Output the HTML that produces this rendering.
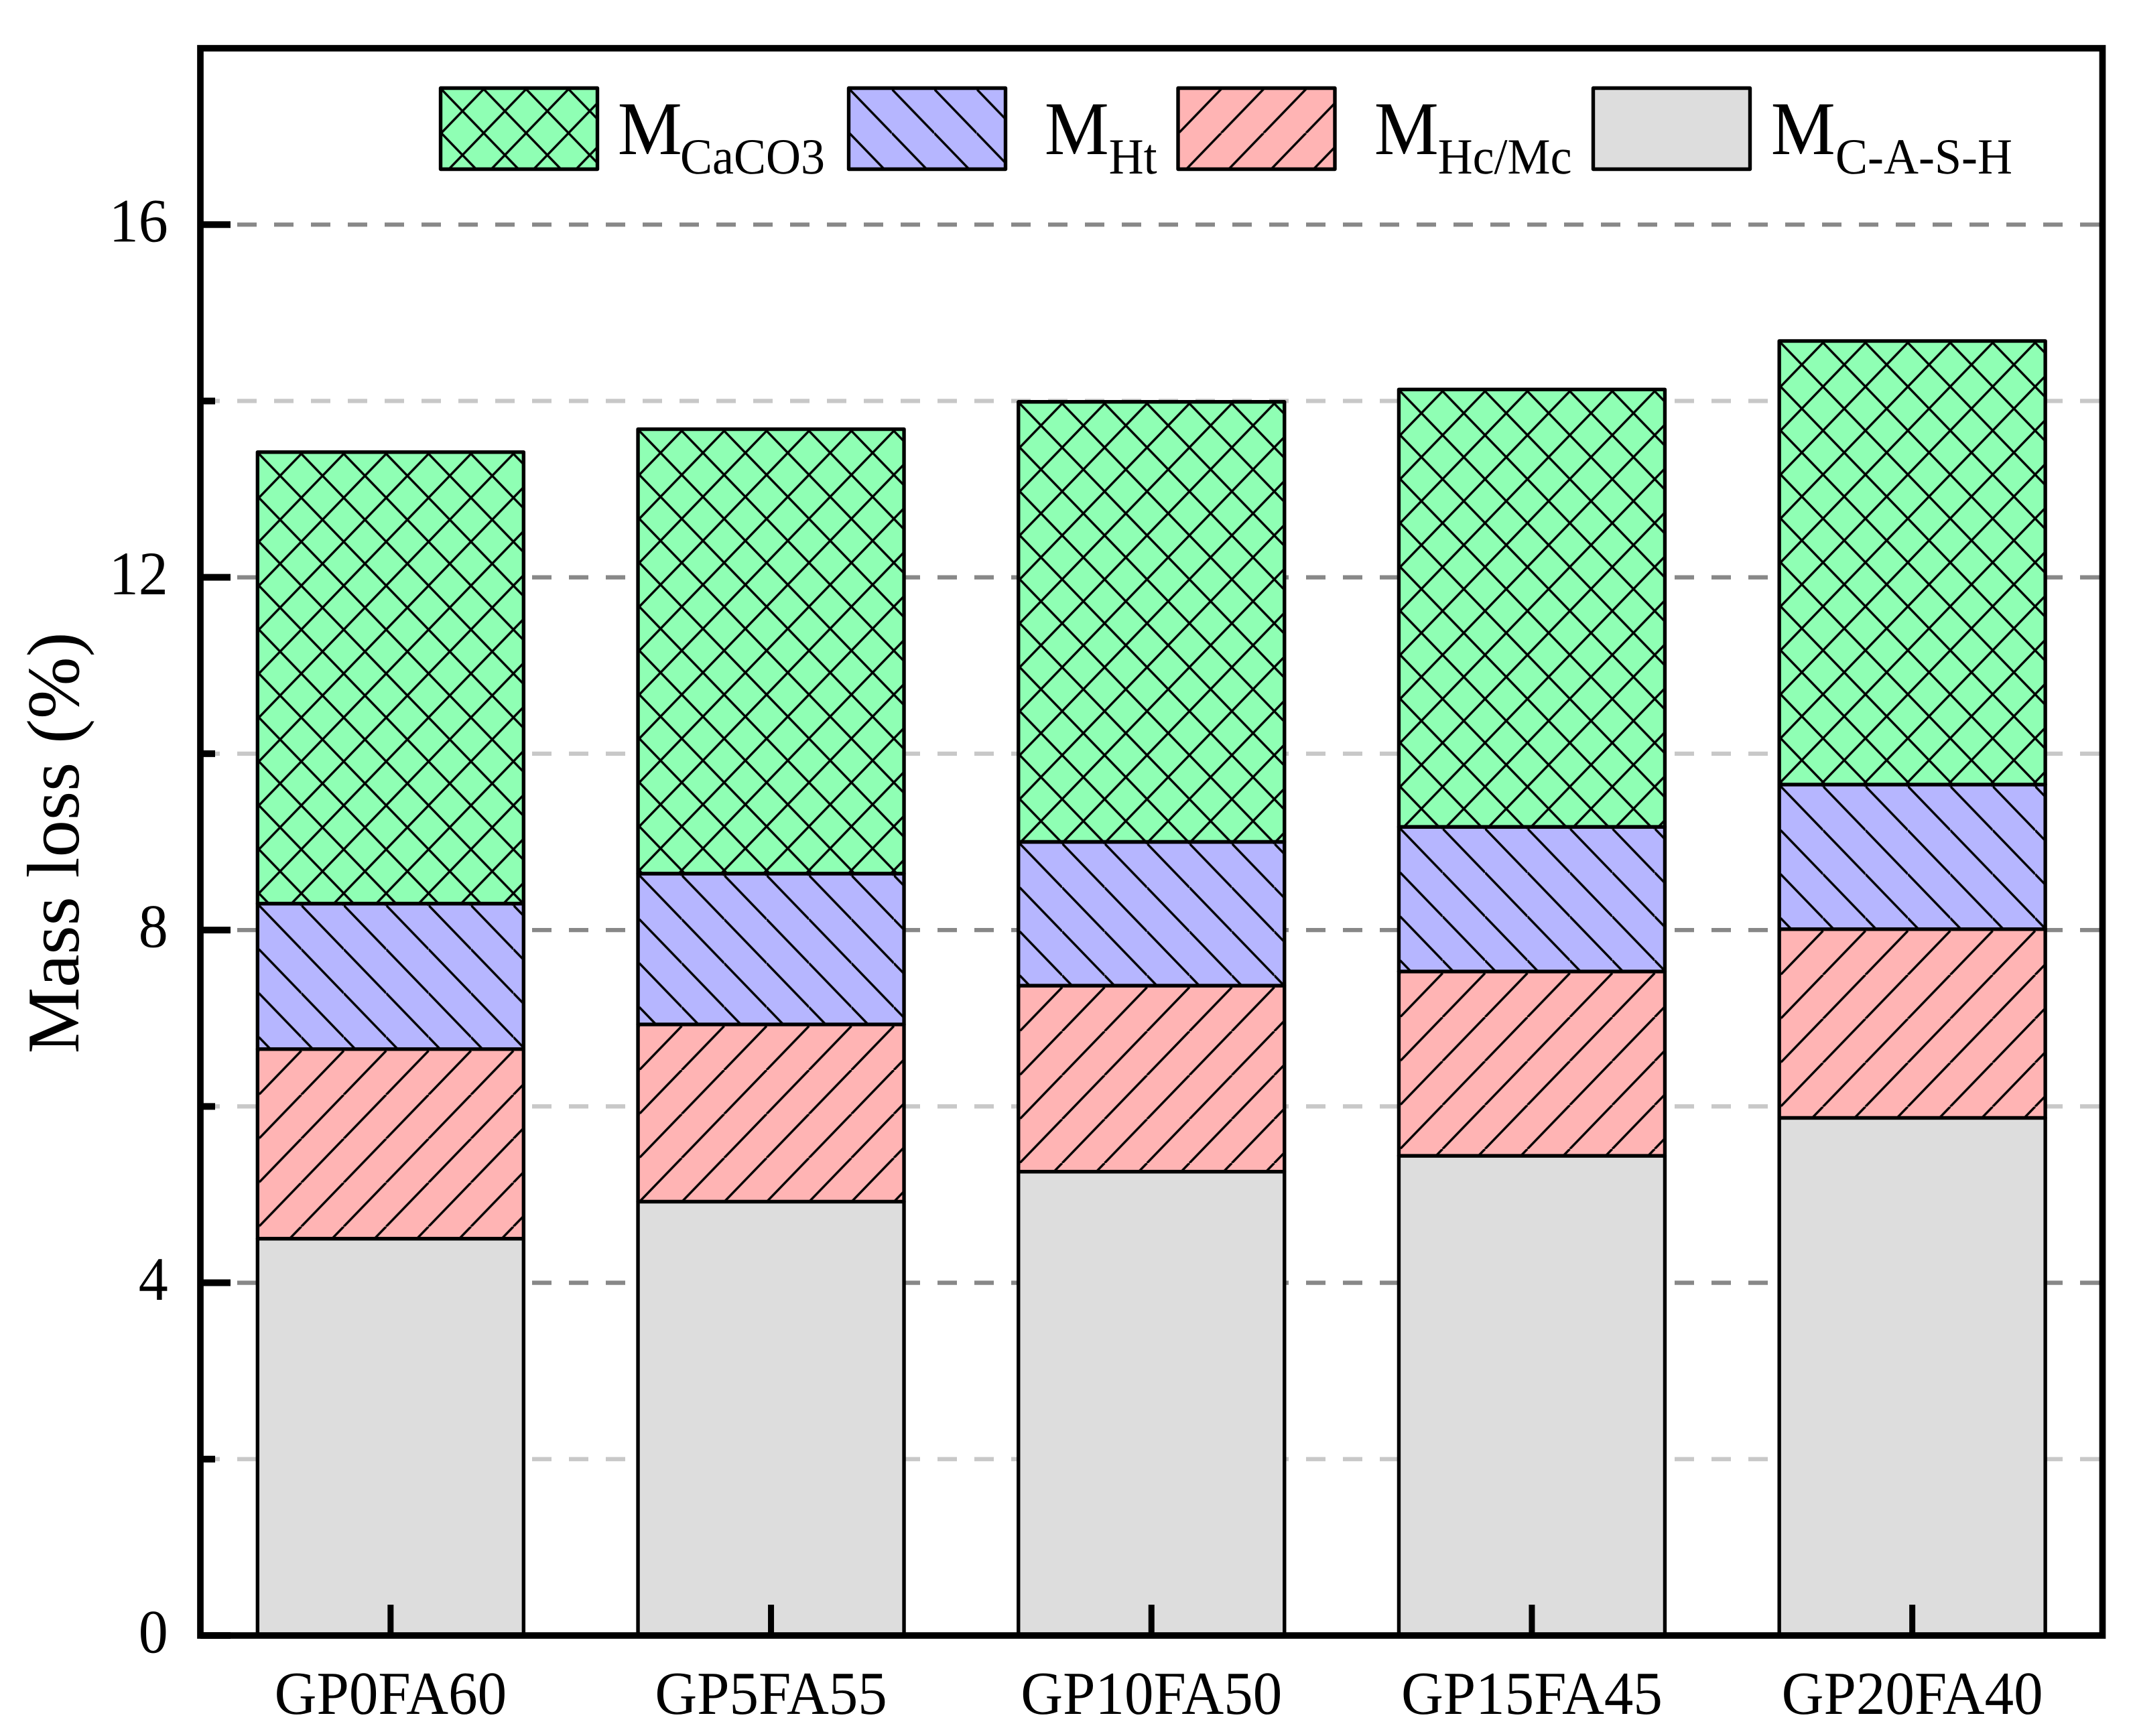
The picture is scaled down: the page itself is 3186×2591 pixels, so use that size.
<!DOCTYPE html>
<html lang="en">
<head>
<meta charset="utf-8">
<title>Mass loss stacked bar chart</title>
<style>
html,body{margin:0;padding:0;background:#fff;}
svg{display:block;}
text{font-family:"Liberation Serif","Times New Roman",serif;fill:#000;text-rendering:geometricPrecision;}
.sw{fill:none;stroke:#000;stroke-width:5.4;stroke-linejoin:round;}
.m{font-size:108px;}
.s{font-size:72px;}
</style>
</head>
<body>
<svg id="chart" xmlns="http://www.w3.org/2000/svg" width="3186" height="2591" viewBox="0 0 3186 2591">
  <defs>
    <pattern id="hatch-cross" patternUnits="userSpaceOnUse" width="63.3" height="65.6">
      <path d="M-63.3,-65.6L126.6,131.2M0,65.6L63.3,131.2M0,-65.6L63.3,0M-63.3,131.2L126.6,-65.6M0,0L-63.3,65.6M63.3,65.6L126.6,0" stroke="#000" stroke-width="3.4" fill="none"/>
    </pattern>
    <pattern id="hatch-back" patternUnits="userSpaceOnUse" width="63.3" height="65.6">
      <path d="M-63.3,-65.6L126.6,131.2M0,65.6L63.3,131.2M0,-65.6L63.3,0" stroke="#000" stroke-width="3.4" fill="none"/>
    </pattern>
    <pattern id="hatch-forward" patternUnits="userSpaceOnUse" width="63.3" height="65.6">
      <path d="M-63.3,131.2L126.6,-65.6M0,0L-63.3,65.6M63.3,65.6L126.6,0" stroke="#000" stroke-width="3.4" fill="none"/>
    </pattern>
  </defs>

  <rect x="0" y="0" width="3186" height="2591" fill="#fff"/>
  <g id="grid"></g>
  <g id="bars"></g>
  <g id="axes"></g>

  <g>
    <g>
      <rect x="657.5" y="131.5" width="234" height="121" fill="#8FFFB4"/>
      <g transform="translate(658.5,133)"><rect width="233" height="119.5" fill="url(#hatch-cross)"/></g>
      <rect class="sw" x="657.5" y="131.5" width="234" height="121"/>
      <text class="m" transform="translate(921.7,230) scale(1,1.05)">M</text>
      <text class="s" transform="translate(1015,259) scale(1,1.05)">CaCO3</text>
    </g>
    <g>
      <rect x="1266.5" y="131.5" width="234" height="121" fill="#B6B6FF"/>
      <g transform="translate(1267.5,133)"><rect width="233" height="119.5" fill="url(#hatch-back)"/></g>
      <rect class="sw" x="1266.5" y="131.5" width="234" height="121"/>
      <text class="m" transform="translate(1558.7,230) scale(1,1.05)">M</text>
      <text class="s" transform="translate(1654.6,259) scale(1,1.05)">Ht</text>
    </g>
    <g>
      <rect x="1758" y="131.5" width="234" height="121" fill="#FFB4B4"/>
      <g transform="translate(1759,133)"><rect width="233" height="119.5" fill="url(#hatch-forward)"/></g>
      <rect class="sw" x="1758" y="131.5" width="234" height="121"/>
      <text class="m" transform="translate(2050.7,230) scale(1,1.05)">M</text>
      <text class="s" transform="translate(2145.6,259) scale(1,1.05)">Hc/Mc</text>
    </g>
    <g>
      <rect class="sw" x="2377.5" y="131.5" width="234" height="121" style="fill:#DDDDDD"/>
      <text class="m" transform="translate(2642.7,230) scale(1,1.05)">M</text>
      <text class="s" transform="translate(2739,259) scale(1,1.05)">C-A-S-H</text>
    </g>
  </g>

  <text transform="translate(117,1258) rotate(-90)" text-anchor="middle" font-size="111">Mass loss (%)</text>
</svg>
<script>
const categories = ["GP0FA60", "GP5FA55", "GP10FA50", "GP15FA45", "GP20FA40"];
const massCASH = [4.50, 4.92, 5.26, 5.44, 5.87];
const massHcMc = [2.15, 2.01, 2.11, 2.09, 2.14];
const massHt = [1.65, 1.71, 1.63, 1.64, 1.64];
const massCaCO3 = [5.12, 5.04, 4.99, 4.96, 5.03];
const majorTicks = [0, 4, 8, 12, 16];
const minorTicks = [2, 6, 10, 14];

const NS = "http://www.w3.org/2000/svg";
const PLOT = { left: 299, right: 3137.5, top: 72, bottom: 2441 };
const Y_MAX = 18;
const BAR_WIDTH = 397;

function yScale(v) {
  return PLOT.bottom - (PLOT.bottom - PLOT.top) * v / Y_MAX;
}
function xScale(i) {
  const step = (PLOT.right - PLOT.left) / categories.length;
  return PLOT.left + step * (i + 0.5);
}
function mk(tag, parent, props) {
  const el = document.createElementNS(NS, tag);
  for (const k in props) el.setAttribute(k, props[k]);
  parent.appendChild(el);
  return el;
}

const grid = document.getElementById("grid");
const bars = document.getElementById("bars");
const axes = document.getElementById("axes");

majorTicks.concat(minorTicks).forEach(function (v) {
  if (v === 0) return;
  const line = mk("line", grid, {
    x1: PLOT.left, x2: PLOT.right, y1: yScale(v), y2: yScale(v),
    stroke: majorTicks.includes(v) ? "#888888" : "#C8C8C8",
    "stroke-width": 6.3, "stroke-dasharray": "29 26"
  });
  
  
});

const seriesList = [
  { key: "c-a-s-h", values: massCASH, fill: "#DDDDDD", hatch: null },
  { key: "hc-mc", values: massHcMc, fill: "#FFB4B4", hatch: "hatch-forward" },
  { key: "ht", values: massHt, fill: "#B6B6FF", hatch: "hatch-back" },
  { key: "caco3", values: massCaCO3, fill: "#8FFFB4", hatch: "hatch-cross" }
];

categories.forEach(function (cat, i) {
  let running = 0;
  const left = xScale(i) - BAR_WIDTH / 2;
  seriesList.forEach(function (s) {
    const yTop = yScale(running + s.values[i]);
    const yBot = yScale(running);
    running += s.values[i];
    const h = yBot - yTop;
    const seg = mk("g", bars, {});
    
    
    mk("rect", seg, { x: left, y: yTop, width: BAR_WIDTH, height: h, fill: s.fill });
    if (s.hatch) {
      const g = mk("g", seg, { transform: "translate(" + (left + 2) + "," + (yTop + 2.5) + ")" });
      mk("rect", g, { x: 0, y: 0, width: BAR_WIDTH - 2, height: h - 2.5, fill: "url(#" + s.hatch + ")" });
    }
    mk("rect", seg, { x: left, y: yTop, width: BAR_WIDTH, height: h, fill: "none", stroke: "#000", "stroke-width": 5.4, "stroke-linejoin": "round" });
  });
});

const frame = mk("rect", axes, {
  x: PLOT.left, y: PLOT.top, width: PLOT.right - PLOT.left, height: PLOT.bottom - PLOT.top,
  fill: "none", stroke: "#000", "stroke-width": 9.7
});



majorTicks.forEach(function (v) {
  const t = mk("line", axes, { x1: PLOT.left, x2: 344, y1: yScale(v), y2: yScale(v), stroke: "#000", "stroke-width": 10 });
  
  
  const lbl = mk("text", axes, { transform: "translate(250.7," + (yScale(v) + 25.5) + ") scale(1,1.05)", "text-anchor": "end", "font-size": 88 });
  lbl.textContent = String(v);
  
  
});

minorTicks.forEach(function (v) {
  const t = mk("line", axes, { x1: PLOT.left, x2: 321, y1: yScale(v), y2: yScale(v), stroke: "#000", "stroke-width": 10 });
  
  
});

categories.forEach(function (cat, i) {
  const t = mk("line", axes, { x1: xScale(i), x2: xScale(i), y1: 2395, y2: PLOT.bottom, stroke: "#000", "stroke-width": 9 });
  
  
  const lbl = mk("text", axes, { transform: "translate(" + xScale(i) + ",2558) scale(1,1.05)", "text-anchor": "middle", "font-size": 87 });
  lbl.textContent = cat;
  
  
});
</script>
</body>
</html>
